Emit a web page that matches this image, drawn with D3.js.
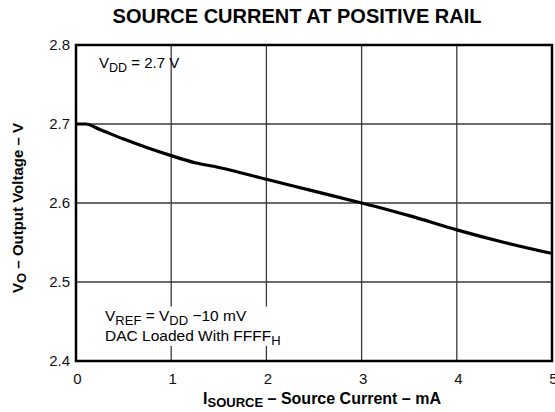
<!DOCTYPE html>
<html>
<head>
<meta charset="utf-8">
<title>Source Current at Positive Rail</title>
<script src="https://cdn.jsdelivr.net/npm/d3@7"></script>
<style>
  body { margin: 0; background: #fff; font-family: "Liberation Sans", Arial, sans-serif; }
  .tick text { font-size: 15px; fill: #111; }
  .grid line { stroke: #3a3a3a; stroke-width: 1.3; }
</style>
</head>
<body>
<div id="graphic"></div>
<script>
// source current (mA) vs output voltage (V)
var current = [0, 0.1, 0.25, 0.5, 0.75, 1, 1.25, 1.5, 2, 2.5, 3, 3.5, 4, 4.5, 5];
var voltage = [2.700, 2.700, 2.693, 2.681, 2.670, 2.660, 2.651, 2.645, 2.630, 2.615, 2.600, 2.584, 2.566, 2.550, 2.536];
var xTicks = [0, 1, 2, 3, 4, 5];
var yTicks = [2.4, 2.5, 2.6, 2.7, 2.8];

var width = 555, height = 412;
var plotLeft = 76, plotRight = 552, plotTop = 45, plotBottom = 361;

var svg = d3.select("#graphic").append("svg")
    .attr("width", width)
    .attr("height", height);

var x = d3.scaleLinear().domain([0, 5]).range([plotLeft, plotRight]);
var y = d3.scaleLinear().domain([2.4, 2.8]).range([plotBottom, plotTop]);

// grid
svg.append("g").attr("class", "grid")
  .selectAll("line").data(xTicks.slice(1, -1)).enter().append("line")
    .attr("x1", function (d) { return x(d); }).attr("x2", function (d) { return x(d); })
    .attr("y1", plotTop).attr("y2", plotBottom);
svg.append("g").attr("class", "grid")
  .selectAll("line").data(yTicks.slice(1, -1)).enter().append("line")
    .attr("x1", plotLeft).attr("x2", plotRight)
    .attr("y1", function (d) { return y(d); }).attr("y2", function (d) { return y(d); });

// white box behind lower annotation
svg.append("rect")
    .attr("x", x(0.25)).attr("y", y(2.469))
    .attr("width", x(2.25) - x(0.25)).attr("height", y(2.419) - y(2.469))
    .attr("fill", "#fff");

// axes (labels only)
var xAxis = d3.axisBottom(x).tickValues(xTicks).tickSize(0).tickPadding(12)
    .tickFormat(d3.format("d"));
var yAxis = d3.axisLeft(y).tickValues(yTicks).tickSize(0).tickPadding(6)
    .tickFormat(d3.format(".1f"));

svg.append("g").attr("transform", "translate(1," + plotBottom + ")").call(xAxis)
  .call(function (g) { g.select(".domain").remove(); });
svg.append("g").attr("transform", "translate(" + plotLeft + ",0)").call(yAxis)
  .call(function (g) { g.select(".domain").remove(); });

// frame
svg.append("rect")
    .attr("x", plotLeft).attr("y", plotTop)
    .attr("width", plotRight - plotLeft).attr("height", plotBottom - plotTop)
    .attr("fill", "none").attr("stroke", "#000").attr("stroke-width", 2.5);

// curve
var line = d3.line()
    .x(function (d, i) { return x(current[i]); })
    .y(function (d) { return y(d); })
    .curve(d3.curveMonotoneX);

svg.append("path")
    .datum(voltage)
    .attr("d", line)
    .attr("fill", "none")
    .attr("stroke", "#000")
    .attr("stroke-width", 3.2);

// title
svg.append("text")
    .attr("x", 297).attr("y", 23)
    .attr("text-anchor", "middle")
    .attr("font-size", "20px").attr("font-weight", "bold")
    .text("SOURCE CURRENT AT POSITIVE RAIL");

// annotations
var t1 = svg.append("text").attr("x", 99).attr("y", 68).attr("font-size", "15px");
t1.append("tspan").text("V");
t1.append("tspan").attr("dy", 4).attr("font-size", "12.5px").text("DD");
t1.append("tspan").attr("dy", -4).text(" = 2.7 V");

var t2 = svg.append("text").attr("x", 105).attr("y", 321).attr("font-size", "15.5px");
t2.append("tspan").text("V");
t2.append("tspan").attr("dy", 4).attr("font-size", "13px").text("REF");
t2.append("tspan").attr("dy", -4).text(" = V");
t2.append("tspan").attr("dy", 4).attr("font-size", "13px").text("DD");
t2.append("tspan").attr("dy", -4).text(" \u221210 mV");

var t3 = svg.append("text").attr("x", 105).attr("y", 341).attr("font-size", "15.5px");
t3.append("tspan").text("DAC Loaded With FFFF");
t3.append("tspan").attr("dy", 4).attr("font-size", "13px").text("H");

// axis titles
var xt = svg.append("text")
    .attr("x", 322).attr("y", 404)
    .attr("text-anchor", "middle")
    .attr("font-size", "16px").attr("font-weight", "bold");
xt.append("tspan").text("I");
xt.append("tspan").attr("dy", 3).attr("font-size", "13px").text("SOURCE");
xt.append("tspan").attr("dy", -3).text(" \u2013 Source Current \u2013 mA");

var yt = svg.append("text")
    .attr("transform", "translate(23," + 208 + ") rotate(-90)")
    .attr("text-anchor", "middle")
    .attr("font-size", "15px").attr("font-weight", "bold");
yt.append("tspan").text("V");
yt.append("tspan").attr("dy", 3).attr("font-size", "13px").text("O");
yt.append("tspan").attr("dy", -3).text(" \u2013 Output Voltage \u2013 V");
</script>
</body>
</html>
